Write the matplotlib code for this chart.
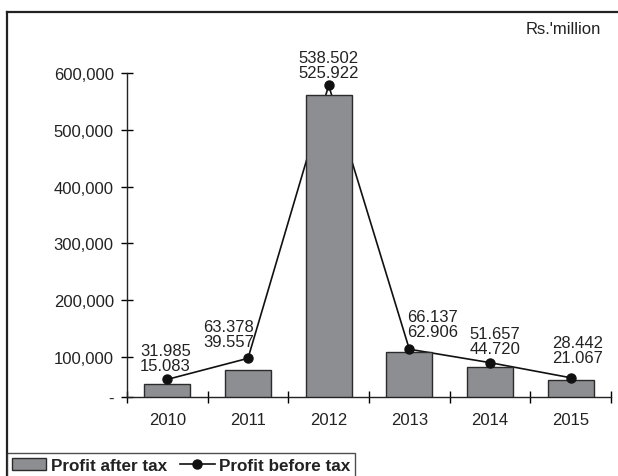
import numpy as np
import matplotlib.pyplot as plt
from matplotlib.patches import Patch
from matplotlib.lines import Line2D

plt.rcParams['font.family'] = ['Liberation Sans', 'DejaVu Sans']

# values (axis units)
years = ['2010', '2011', '2012', '2013', '2014', '2015']
profit_after_tax = [52800, 77000, 561700, 109400, 82900, 59900]
profit_before_tax = [60500, 97600, 578200, 113600, 90000, 63400]

# printed data labels (as shown in the original)
labels_before = ['31.985', '63.378', '538.502', '66.137', '51.657', '28.442']
labels_after = ['15.083', '39.557', '525.922', '62.906', '44.720', '21.067']
# label offsets from the dot, in pixels
label_dx = [-2, -19, 0, 23, 5, 7]
label_dy = [21, 24, 20, 25, 22, 28]

y_bottom = 29500
yticks = [y_bottom, 100000, 200000, 300000, 400000, 500000, 600000]
ytick_labels = ['-', '100,000', '200,000', '300,000', '400,000', '500,000', '600,000']

bar_color = '#8d8e92'
edge_color = '#2b2b2b'
text_color = '#222222'
fs = 12

fig = plt.figure(figsize=(6.18, 4.77), dpi=100)
ax = fig.add_axes([127/618, 79/477, 484/618, 324/477])

x = np.arange(len(years))
# line sits behind the bars, the dots on top
ax.plot(x, profit_before_tax, color='#111111', linewidth=1.2, zorder=1, clip_on=False)
ax.bar(x, profit_after_tax, width=0.57, color=bar_color, edgecolor=edge_color, linewidth=1.0, zorder=2)
ax.plot(x, profit_before_tax, linestyle='none', color='#111111', marker='o', markersize=6.5, zorder=3, clip_on=False)

for i in range(len(years)):
    ax.annotate(labels_before[i] + '\n' + labels_after[i], xy=(x[i], profit_before_tax[i]),
                xytext=(label_dx[i]*0.72, label_dy[i]*0.72), textcoords='offset points',
                ha='center', va='center', multialignment='center', fontsize=fs,
                linespacing=1.0, color=text_color, annotation_clip=False)

ax.set_xlim(-0.5, 5.5)
ax.set_ylim(y_bottom, 600000)
ax.set_yticks(yticks)
ax.set_yticklabels(ytick_labels)
ax.set_xticks(x)
ax.set_xticklabels(years)
ax.set_xticks(np.arange(-0.5, 6.0, 1.0), minor=True)

for s in ['top', 'right']:
    ax.spines[s].set_visible(False)
for s in ['left', 'bottom']:
    ax.spines[s].set_linewidth(1.0)
    ax.spines[s].set_color('#222222')

ax.tick_params(axis='y', direction='inout', length=9, width=1.0, pad=5, labelsize=fs, labelcolor=text_color)
ax.tick_params(axis='x', which='major', length=0, pad=11, labelsize=fs, labelcolor=text_color)
ax.tick_params(axis='x', which='minor', direction='inout', length=9, width=1.0)

# outer frame (top and left edges)
fig.add_artist(Line2D([7/618, 1.0], [464/477, 464/477], color='#222222', linewidth=1.6))
fig.add_artist(Line2D([7/618, 7/618], [0, 464/477], color='#222222', linewidth=1.6))

fig.text(601/618, 447/477, "Rs.'million", ha='right', va='center', fontsize=fs, color=text_color)

handles = [Patch(facecolor=bar_color, edgecolor=edge_color, linewidth=1.0),
           Line2D([], [], color='#111111', linewidth=1.2, marker='o', markersize=6.5)]
leg = fig.legend(handles, ['Profit after tax', 'Profit before tax'], loc='upper left',
                 bbox_to_anchor=(7/618, 23/477), ncol=2, frameon=True, fancybox=False,
                 borderaxespad=0, borderpad=0.3, handlelength=2.0, handletextpad=0.25,
                 columnspacing=0.8, prop={'weight': 'bold', 'size': 12.3})
leg.get_frame().set_edgecolor('#222222')
leg.get_frame().set_linewidth(1.0)
for t in leg.get_texts():
    t.set_color(text_color)

fig.savefig('out.png', dpi=100)
